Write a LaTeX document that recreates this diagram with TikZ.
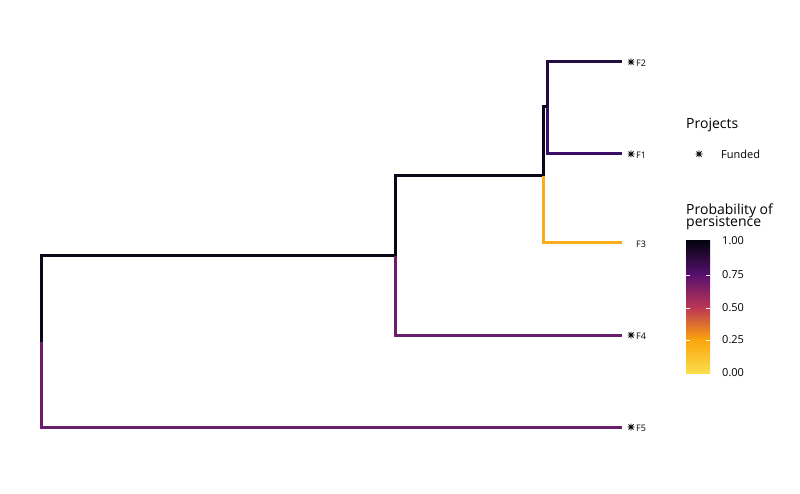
\documentclass[tikz,border=0pt]{standalone}
\usepackage{fontspec}
\setmainfont{Open Sans}
\definecolor{cBlack}{HTML}{0A0718}
\definecolor{cF5}{HTML}{6A1E6C}
\definecolor{cF2}{HTML}{220C40}
\definecolor{cF1}{HTML}{3D0E68}
\definecolor{cF3}{HTML}{F8AE1C}
\definecolor{i0}{HTML}{FADE4C}
\definecolor{i1}{HTML}{FBA40C}
\definecolor{i2}{HTML}{BC3754}
\definecolor{i3}{HTML}{57106E}
\definecolor{i4}{HTML}{05030F}
\newcommand{\astk}[1]{\draw[line width=0.8pt,black] ($(#1)+(-3.5,0)$) -- ($(#1)+(3.5,0)$) ($(#1)+(0,-3.5)$) -- ($(#1)+(0,3.5)$) ($(#1)+(-2.5,-2.5)$) -- ($(#1)+(2.5,2.5)$) ($(#1)+(-2.5,2.5)$) -- ($(#1)+(2.5,-2.5)$);}
\usetikzlibrary{calc}
\begin{document}
\begin{tikzpicture}[x=1pt,y=-1pt,
  br/.style={line width=3pt},
  lab/.style={font=\fontsize{9}{10}\selectfont,anchor=west,inner sep=0pt},
  tick/.style={font=\fontsize{11}{12}\selectfont,anchor=west,inner sep=0pt},
  ttl/.style={font=\fontsize{14}{15}\selectfont,anchor=west,inner sep=0pt,align=left}]
\useasboundingbox (0,0) rectangle (800,494);
\coordinate (r) at (41,256); \coordinate (r5) at (41,427);
\coordinate (rm) at (41,342);
\coordinate (n1) at (395,256); \coordinate (n1t) at (395,176); \coordinate (n1b) at (395,335);
\coordinate (n2) at (543,176); \coordinate (n2t) at (543,107); \coordinate (n2b) at (543,243);
\coordinate (n3) at (547,107); \coordinate (n3t) at (547,62); \coordinate (n3b) at (547,154);
\coordinate (e2) at (622,62); \coordinate (e1) at (622,154); \coordinate (e3) at (622,243);
\coordinate (e4) at (622,335); \coordinate (e5) at (622,427);
\draw[br,cF5] (rm) -- (r5) -- (e5);
\draw[br,cBlack] (rm) -- (r) -- (n1);
\draw[br,cF5] (n1) -- (n1b) -- (e4);
\draw[br,cBlack] (n1) -- (n1t) -- (n2);
\draw[br,cF3] (n2) -- (n2b) -- (e3);
\draw[br,cF2] (n3) -- (n3t) -- (e2);
\draw[br,cF1] (n3) -- (n3b) -- (e1);
\draw[br,cBlack] (n2) -- (n2t) -- (n3);
\coordinate (a2) at (631,62); \astk{a2} \node[lab] (l2) at (636,63) {F2};
\coordinate (a1) at (631,154); \astk{a1} \node[lab] (l1) at (636,155) {F1};
\node[lab] (l3) at (636,244) {F3};
\coordinate (a4) at (631,335); \astk{a4} \node[lab] (l4) at (636,336) {F4};
\coordinate (a5) at (631,427); \astk{a5} \node[lab] (l5) at (636,428) {F5};
\node[ttl] (pt) at (686,125) {Projects};
\coordinate (la) at (699,154); \astk{la}
\node[tick] (lf) at (721,154) {Funded};
\node[ttl] (pp) at (686,217) {Probability of\\[-3pt]persistence};
\shade[top color=i4,bottom color=i3] (686,241) rectangle (710,275);
\shade[top color=i3,bottom color=i2] (686,274.5) rectangle (710,308);
\shade[top color=i2,bottom color=i1] (686,307.5) rectangle (710,340);
\shade[top color=i1,bottom color=i0] (686,339.5) rectangle (710,373);
\foreach \y/\t in {241/1.00,275/0.75,308/0.50,340/0.25,373/0.00}{
  \node[tick] at (722,\y) {\t};
}
\foreach \y in {275,308,340}{
  \draw[white,line width=0.6pt] (686,\y) -- (690,\y) (706,\y) -- (710,\y);
}
\end{tikzpicture}
\end{document}
